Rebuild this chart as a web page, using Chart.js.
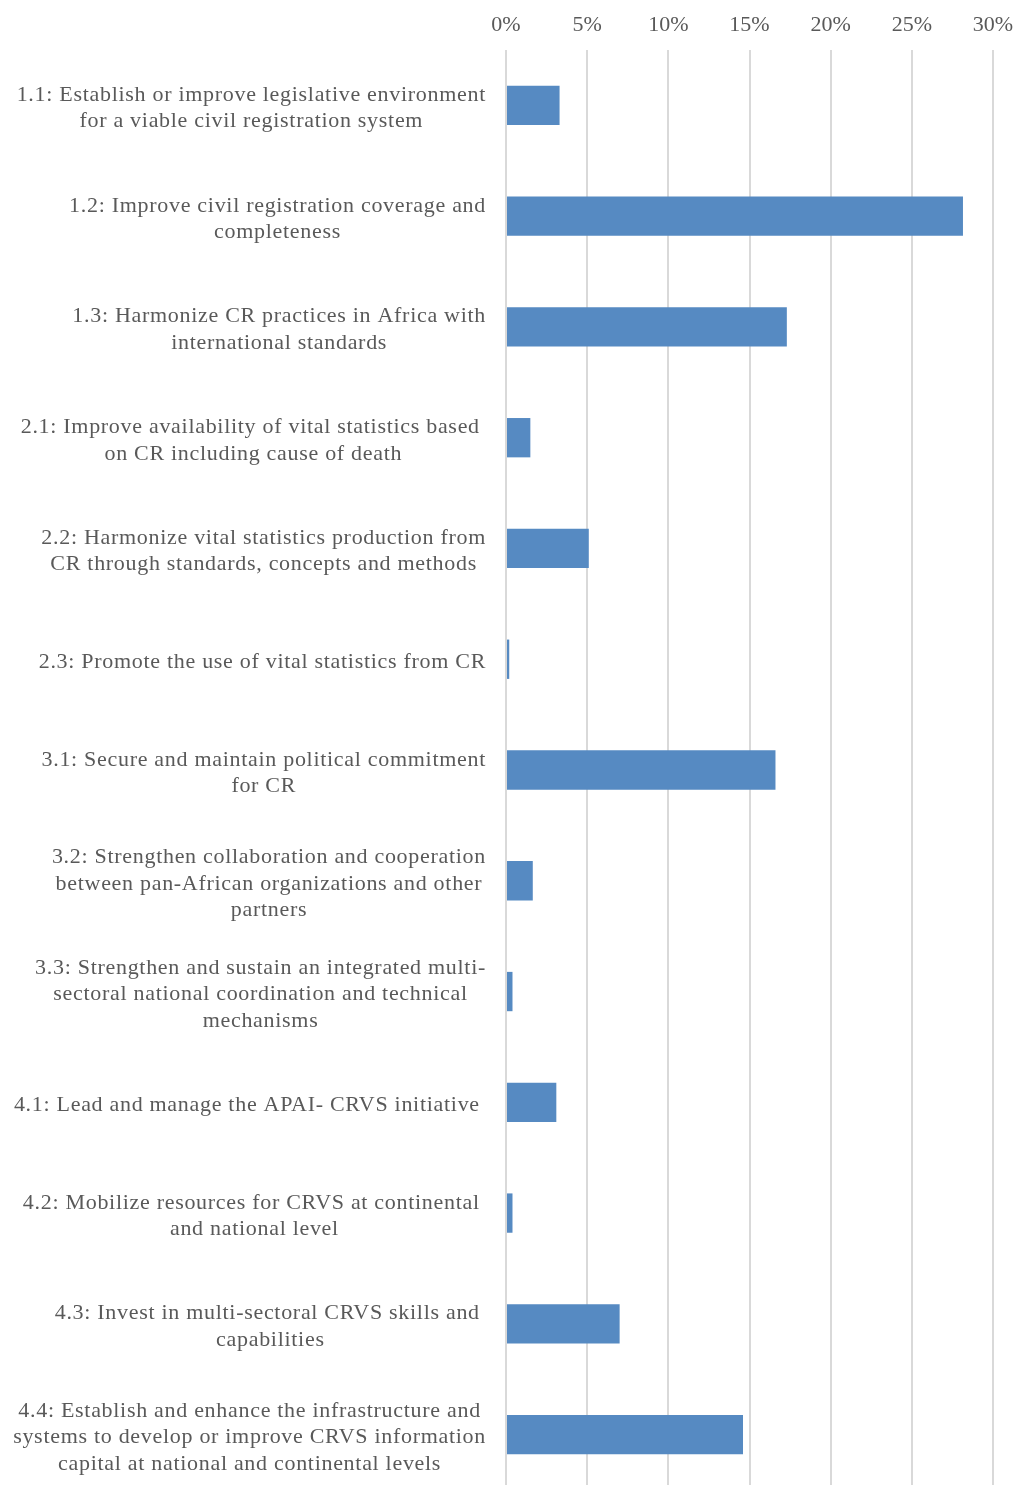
<!DOCTYPE html>
<html>
<head>
<meta charset="utf-8">
<script src="https://cdn.jsdelivr.net/npm/chart.js@4"></script>
<style>
  html, body { margin: 0; padding: 0; background: #fff; overflow: hidden; }
  #wrap { width: 1016px; height: 1490px; position: relative; }
</style>
</head>
<body>
<div id="wrap"><canvas id="myChart"></canvas></div>
<script>
const categories = [
    ['1.1: Establish or improve legislative environment', 'for a viable civil registration system'],
    ['1.2: Improve civil registration coverage and', 'completeness'],
    ['1.3: Harmonize CR practices in Africa with', 'international standards'],
    ['2.1: Improve availability of vital statistics based ', 'on CR including cause of death'],
    ['2.2: Harmonize vital statistics production from', 'CR through standards, concepts and methods'],
    ['2.3: Promote the use of vital statistics from CR'],
    ['3.1: Secure and maintain political commitment', 'for CR'],
    ['3.2: Strengthen collaboration and cooperation', 'between pan-African organizations and other', 'partners'],
    ['3.3: Strengthen and sustain an integrated multi-', 'sectoral national coordination and technical', 'mechanisms'],
    ['4.1: Lead and manage the APAI- CRVS initiative '],
    ['4.2: Mobilize resources for CRVS at continental ', 'and national level'],
    ['4.3: Invest in multi-sectoral CRVS skills and ', 'capabilities'],
    ['4.4: Establish and enhance the infrastructure and', 'systems to develop or improve CRVS information', 'capital at national and continental levels']
];
const shares = [3.3, 28.15, 17.3, 1.5, 5.1, 0.2, 16.6, 1.65, 0.4, 3.1, 0.4, 7.0, 14.6];
const tickValues = [0, 5, 10, 15, 20, 25, 30];

const textColor = '#595959';
const labelFont = '22px "Liberation Serif"';

// draws the category labels: block right-aligned, lines centred
const labelPlugin = {
    id: 'catLabels',
    afterDraw(chart) {
        const ctx = chart.ctx;
        const yScale = chart.scales.y;
        const lh = 26.5;
        ctx.save();
        ctx.font = labelFont;
        ctx.letterSpacing = '0.7px';
        ctx.fillStyle = textColor;
        ctx.textAlign = 'center';
        ctx.textBaseline = 'middle';
        categories.forEach((lines, i) => {
            const y = yScale.getPixelForValue(i) + 3;
            const w = Math.max(...lines.map(l => ctx.measureText(l).width));
            const cx = 486 - w / 2;
            lines.forEach((l, k) => {
                ctx.fillText(l, cx, y + (k - (lines.length - 1) / 2) * lh);
            });
        });
        ctx.restore();
    }
};

var ctx = document.getElementById('myChart').getContext('2d');
var chart = new Chart(ctx, {
    type: 'bar',
    data: {
        labels: categories,
        datasets: [{
            data: shares,
            backgroundColor: '#568ac2',
            borderWidth: 0,
            categoryPercentage: 1,
            barPercentage: 0.355
        }]
    },
    plugins: [labelPlugin],
    options: {
        indexAxis: 'y',
        responsive: true,
        maintainAspectRatio: false,
        animation: false,
        layout: { padding: { left: 0, right: 23, top: 0, bottom: 0 } },
        plugins: {
            legend: { display: false },
            tooltip: { enabled: false }
        },
        scales: {
            x: {
                position: 'top',
                min: 0,
                max: 30,
                afterBuildTicks(scale) {
                    scale.ticks = tickValues.map(v => ({ value: v }));
                },
                afterFit(scale) {
                    scale.height = 50;
                    scale.paddingLeft = 0;
                    scale.paddingRight = 0;
                },
                grid: { color: '#d9d9d9', lineWidth: 2, drawTicks: false },
                border: { display: false },
                ticks: {
                    padding: 12,
                    color: textColor,
                    font: { family: 'Liberation Serif', size: 22 },
                    callback: v => v + '%'
                }
            },
            y: {
                afterFit(scale) { scale.width = 506; },
                grid: { display: false },
                border: { display: false },
                ticks: { display: false }
            }
        }
    }
});
</script>
</body>
</html>
